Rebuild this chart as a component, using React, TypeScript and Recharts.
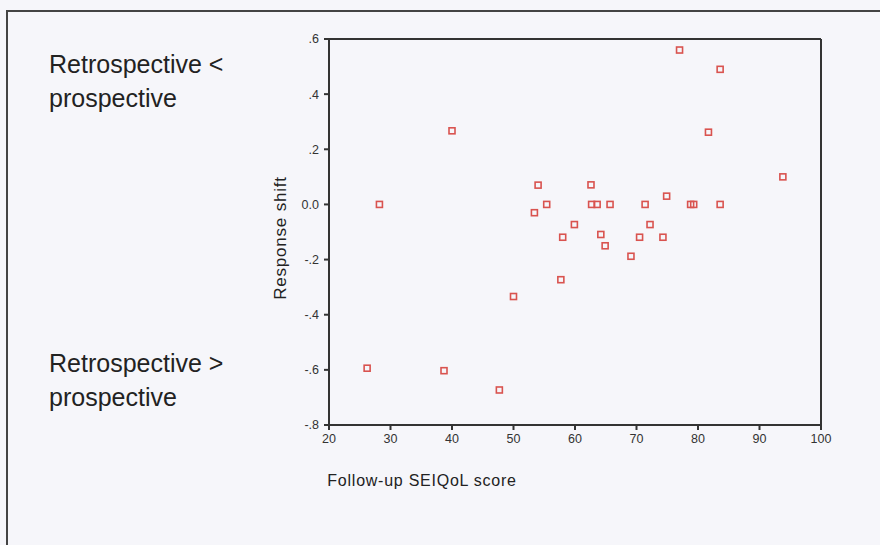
import React from 'react';
import { ScatterChart, Scatter, XAxis, YAxis, ReferenceLine } from 'recharts';

// follow-up SEIQoL score vs response shift
const scores = [
  28.2, 40.0, 54.0, 53.4, 55.4, 77.0, 83.6, 81.7, 93.8, 62.6, 62.7, 63.6, 65.7, 71.4, 74.9, 78.8,
  79.3, 83.6, 59.9, 72.2, 58.0, 64.2, 70.5, 74.3, 64.9, 69.1, 57.7, 26.2, 38.7, 47.7, 50.0,
];
const shifts = [
  0.0, 0.267, 0.07, -0.03, 0.0, 0.56, 0.49, 0.262, 0.1, 0.071, 0.0, 0.0, 0.0, 0.0, 0.03, 0.0,
  0.0, 0.0, -0.073, -0.073, -0.119, -0.109, -0.119, -0.119, -0.15, -0.188, -0.273, -0.594, -0.603, -0.673, -0.334,
];
const xTicks = [20, 30, 40, 50, 60, 70, 80, 90, 100];
const yTicks = [-0.8, -0.6, -0.4, -0.2, 0, 0.2, 0.4, 0.6];

const points = scores.map((s, i) => ({ x: s, y: shifts[i] }));

const fmtY = (v: number) => {
  if (Math.abs(v) < 1e-9) return '0.0';
  return v.toFixed(1).replace('0.', '.');
};

const Square = (props: any) => {
  const { cx, cy } = props;
  return <rect x={cx - 3} y={cy - 3} width={6} height={6} fill="none" stroke="#d9534f" strokeWidth={1.6} />;
};

const font = 'Arial, "Liberation Sans", sans-serif';
const sideText = { position: 'absolute' as const, left: 49, fontSize: 25, lineHeight: '34px', color: '#222', whiteSpace: 'nowrap' as const };

export default function App() {
  return (
    <div style={{ position: 'absolute', left: 0, top: 0, width: 880, height: 545, background: '#f6f6fa', fontFamily: font, overflow: 'hidden' }}>
      <div style={{ position: 'absolute', left: 6, top: 10, width: 880, height: 545, borderTop: '2px solid #444', borderLeft: '2px solid #444' }} />
      <div style={{ ...sideText, top: 47 }}>
        Retrospective &lt;<br />prospective
      </div>
      <div style={{ ...sideText, top: 346 }}>
        Retrospective &gt;<br />prospective
      </div>
      <div style={{ position: 'absolute', left: 281, top: 238, width: 0, height: 0 }}>
        <div style={{ position: 'absolute', left: -100, top: -10, width: 200, textAlign: 'center', fontSize: 17, letterSpacing: 0.8, lineHeight: '20px', color: '#222', transform: 'rotate(-90deg)', whiteSpace: 'nowrap' }}>
          Response shift
        </div>
      </div>
      <div style={{ position: 'absolute', left: 272, top: 472, width: 300, textAlign: 'center', fontSize: 16, letterSpacing: 0.75, color: '#222', whiteSpace: 'nowrap' }}>
        Follow-up SEIQoL score
      </div>
      <div style={{ position: 'absolute', left: 0, top: 0 }}>
        <ScatterChart width={880} height={545} margin={{ top: 39, right: 59, bottom: 90, left: 289 }}>
          <XAxis
            type="number"
            dataKey="x"
            domain={[20, 100]}
            ticks={xTicks}
            allowDataOverflow
            stroke="#333"
            strokeWidth={2}
            tickSize={5}
            tickMargin={4}
            height={30}
            tick={{ fill: '#333', fontSize: 12.5, fontFamily: font }}
          />
          <YAxis
            type="number"
            dataKey="y"
            domain={[-0.8, 0.6]}
            ticks={yTicks}
            allowDataOverflow
            tickFormatter={fmtY}
            stroke="#333"
            strokeWidth={2}
            tickSize={5}
            tickMargin={5}
            width={40}
            tick={{ fill: '#333', fontSize: 12.5, fontFamily: font }}
          />
          <ReferenceLine y={0.6} stroke="#333" strokeWidth={2} />
          <ReferenceLine x={100} stroke="#333" strokeWidth={2} />
          <Scatter data={points} shape={Square} isAnimationActive={false} />
        </ScatterChart>
      </div>
    </div>
  );
}
